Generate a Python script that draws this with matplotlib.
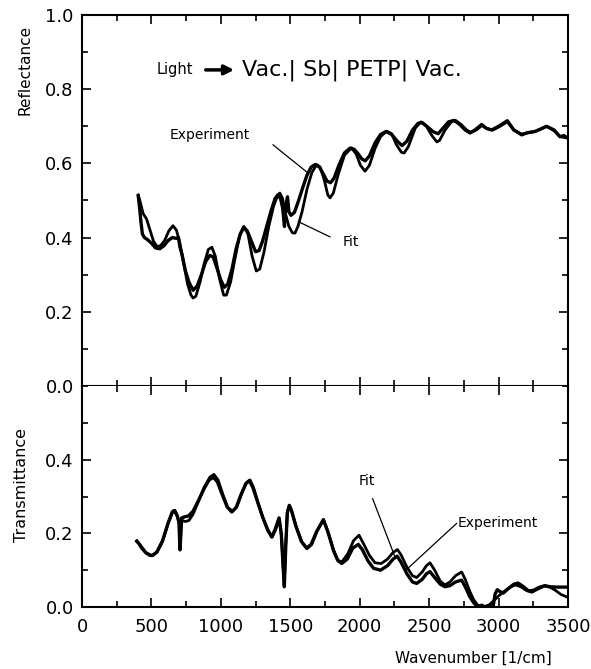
import matplotlib
matplotlib.use("Agg")
import matplotlib.pyplot as plt
from matplotlib.ticker import MultipleLocator, FixedLocator

# ---------------- data ----------------
refl_exp_x = [405, 415, 425, 435, 450, 470, 500, 530, 560, 590, 620, 650, 680, 695, 705, 720, 745, 770,
              800, 830, 860, 890, 920, 945, 970, 1000, 1025, 1050, 1080, 1110, 1140, 1165, 1190, 1220,
              1250, 1275, 1300, 1330, 1360, 1390, 1410, 1430, 1445, 1458, 1470, 1480, 1490, 1505, 1530,
              1560, 1590, 1620, 1650, 1680, 1710, 1740, 1765, 1790, 1815, 1850, 1890, 1930, 1960, 1990,
              2015, 2040, 2070, 2110, 2150, 2190, 2230, 2270, 2305, 2340, 2380, 2420, 2450, 2490, 2530,
              2565, 2600, 2640, 2680, 2720, 2760, 2795, 2830, 2878, 2910, 2950, 3000, 3063, 3110, 3166,
              3210, 3262, 3300, 3346, 3400, 3442, 3470, 3500]
refl_exp_y = [0.512, 0.48, 0.44, 0.41, 0.40, 0.395, 0.385, 0.372, 0.37, 0.378, 0.392, 0.40, 0.398, 0.40,
              0.375, 0.355, 0.31, 0.28, 0.258, 0.27, 0.30, 0.335, 0.352, 0.348, 0.32, 0.285, 0.266,
              0.275, 0.315, 0.37, 0.41, 0.428, 0.418, 0.39, 0.362, 0.365, 0.39, 0.43, 0.47, 0.505,
              0.515, 0.505, 0.48, 0.43, 0.49, 0.51, 0.47, 0.46, 0.468, 0.50, 0.535, 0.568, 0.59, 0.597,
              0.59, 0.57, 0.552, 0.548, 0.56, 0.595, 0.628, 0.641, 0.638, 0.625, 0.612, 0.607, 0.62,
              0.655, 0.678, 0.686, 0.678, 0.66, 0.648, 0.66, 0.69, 0.708, 0.71, 0.698, 0.685, 0.68,
              0.695, 0.712, 0.716, 0.705, 0.69, 0.682, 0.69, 0.705, 0.695, 0.69, 0.70, 0.715, 0.69,
              0.677, 0.683, 0.686, 0.692, 0.70, 0.69, 0.672, 0.675, 0.668]

refl_fit_x = [405, 420, 440, 465, 490, 515, 540, 565, 595, 625, 655, 680, 705, 730, 760, 785, 800, 820,
              850, 880, 910, 935, 960, 990, 1020, 1040, 1070, 1100, 1135, 1165, 1195, 1225, 1255, 1280,
              1310, 1345, 1380, 1410, 1425, 1445, 1465, 1490, 1515, 1534, 1555, 1585, 1620, 1655, 1690,
              1715, 1745, 1770, 1786, 1810, 1845, 1890, 1940, 1975, 2005, 2038, 2070, 2110, 2150, 2194,
              2230, 2265, 2300, 2320, 2350, 2400, 2440, 2480, 2520, 2555, 2575, 2615, 2660, 2690, 2730,
              2770, 2800, 2840, 2880, 2920, 2960, 3010, 3063, 3110, 3166, 3262, 3346, 3400, 3442, 3500]
refl_fit_y = [0.515, 0.495, 0.465, 0.45, 0.42, 0.39, 0.376, 0.378, 0.392, 0.418, 0.432, 0.42, 0.385,
              0.335, 0.275, 0.245, 0.237, 0.242, 0.28, 0.33, 0.368, 0.374, 0.35, 0.29, 0.245, 0.245,
              0.28, 0.34, 0.405, 0.43, 0.41, 0.35, 0.31, 0.315, 0.36, 0.43, 0.485, 0.515, 0.52, 0.505,
              0.465, 0.43, 0.413, 0.412, 0.43, 0.47, 0.53, 0.575, 0.597, 0.59, 0.555, 0.515, 0.507,
              0.52, 0.57, 0.622, 0.642, 0.625, 0.595, 0.579, 0.595, 0.64, 0.672, 0.687, 0.68, 0.65,
              0.63, 0.628, 0.645, 0.695, 0.712, 0.70, 0.675, 0.658, 0.662, 0.69, 0.712, 0.716, 0.705,
              0.69, 0.684, 0.69, 0.702, 0.693, 0.69, 0.70, 0.712, 0.69, 0.679, 0.686, 0.70, 0.688,
              0.672, 0.668]

trans_exp_x = [395, 410, 430, 460, 490, 510, 540, 580, 620, 650, 665, 685, 698, 706, 712, 718, 740, 766,
               800, 840, 880, 915, 946, 975, 1010, 1045, 1078, 1110, 1145, 1180, 1205, 1230, 1265, 1300,
               1335, 1366, 1390, 1419, 1435, 1447, 1457, 1467, 1478, 1493, 1510, 1540, 1580, 1618, 1650,
               1690, 1738, 1770, 1810, 1840, 1870, 1910, 1950, 1990, 2020, 2060, 2100, 2150, 2200, 2240,
               2270, 2300, 2340, 2380, 2410, 2450, 2480, 2506, 2540, 2580, 2614, 2650, 2690, 2734, 2760,
               2790, 2820, 2850, 2880, 2900, 2930, 2960, 2975, 2990, 3010, 3035, 3070, 3110, 3140, 3180,
               3214, 3250, 3290, 3334, 3370, 3420, 3460, 3500]
trans_exp_y = [0.178, 0.172, 0.16, 0.147, 0.14, 0.14, 0.15, 0.18, 0.228, 0.258, 0.262, 0.248, 0.23,
               0.155, 0.20, 0.242, 0.245, 0.247, 0.26, 0.29, 0.322, 0.345, 0.352, 0.34, 0.305, 0.272,
               0.258, 0.27, 0.305, 0.335, 0.343, 0.325, 0.285, 0.245, 0.212, 0.19, 0.21, 0.242, 0.2,
               0.12, 0.055, 0.16, 0.255, 0.276, 0.26, 0.22, 0.178, 0.16, 0.17, 0.205, 0.237, 0.205,
               0.155, 0.128, 0.118, 0.13, 0.16, 0.17, 0.155, 0.125, 0.105, 0.10, 0.112, 0.13, 0.138,
               0.12, 0.09, 0.068, 0.064, 0.075, 0.09, 0.096, 0.08, 0.062, 0.055, 0.058, 0.068, 0.073,
               0.055, 0.03, 0.012, 0.0, 0.005, 0.0, 0.004, 0.0, 0.035, 0.047, 0.042, 0.038, 0.05,
               0.062, 0.065, 0.055, 0.044, 0.045, 0.053, 0.058, 0.055, 0.054, 0.054, 0.054]

trans_fit_x = [395, 420, 460, 500, 540, 580, 620, 655, 670, 690, 702, 708, 714, 720, 745, 770, 800, 840,
               880, 920, 950, 980, 1015, 1050, 1085, 1115, 1150, 1185, 1210, 1235, 1270, 1305, 1340,
               1370, 1395, 1420, 1437, 1448, 1457, 1467, 1480, 1495, 1512, 1545, 1585, 1620, 1655, 1695,
               1740, 1775, 1815, 1845, 1875, 1915, 1955, 1995, 2030, 2070, 2110, 2155, 2200, 2240, 2272,
               2300, 2340, 2380, 2410, 2450, 2480, 2506, 2540, 2580, 2614, 2650, 2690, 2734, 2760, 2790,
               2820, 2850, 2890, 2930, 2960, 3000, 3050, 3090, 3120, 3160, 3200, 3240, 3280, 3330, 3370,
               3410, 3450, 3500]
trans_fit_y = [0.18, 0.168, 0.148, 0.14, 0.148, 0.178, 0.226, 0.26, 0.262, 0.245, 0.222, 0.17, 0.222,
               0.235, 0.232, 0.235, 0.252, 0.288, 0.325, 0.352, 0.36, 0.345, 0.305, 0.27, 0.26, 0.272,
               0.308, 0.338, 0.345, 0.325, 0.28, 0.24, 0.205, 0.19, 0.21, 0.24, 0.19, 0.11, 0.065, 0.17,
               0.26, 0.275, 0.258, 0.215, 0.175, 0.158, 0.17, 0.208, 0.237, 0.2, 0.15, 0.124, 0.124,
               0.145, 0.18, 0.195, 0.17, 0.14, 0.12, 0.118, 0.13, 0.148, 0.156, 0.14, 0.108, 0.085,
               0.08, 0.095, 0.112, 0.12, 0.1, 0.07, 0.06, 0.068, 0.085, 0.095, 0.075, 0.045, 0.02,
               0.005, 0.0, 0.005, 0.015, 0.03, 0.045, 0.055, 0.06, 0.055, 0.045, 0.04, 0.048, 0.057,
               0.054, 0.045, 0.034, 0.026]

x_ticks = [0, 500, 1000, 1500, 2000, 2500, 3000, 3500]
refl_ticks = [0.0, 0.2, 0.4, 0.6, 0.8, 1.0]
trans_ticks = [0.0, 0.2, 0.4]

# ---------------- figure ----------------
plt.rcParams['font.family'] = ['DejaVu Sans']
fig = plt.figure(figsize=(5.91, 6.69), dpi=100)
L, R = 82 / 591, 568 / 591
ax1 = fig.add_axes([L, 1 - 386 / 669, R - L, 371 / 669])
ax2 = fig.add_axes([L, 1 - 607 / 669, R - L, 221 / 669])

for ax in (ax1, ax2):
    ax.set_xlim(0, 3500)
    ax.xaxis.set_major_locator(FixedLocator(x_ticks))
    ax.xaxis.set_minor_locator(MultipleLocator(250))
    ax.yaxis.set_minor_locator(MultipleLocator(0.1))
    ax.tick_params(which='both', direction='in', top=True, right=True, width=1.2, color='black')
    ax.tick_params(which='major', length=6.5, labelsize=13, pad=6)
    ax.tick_params(which='minor', length=4)
    for s in ax.spines.values():
        s.set_linewidth(1.5)

ax1.set_ylim(0, 1.0)
ax1.set_yticks(refl_ticks)
ax1.set_yticklabels([f"{v:.1f}" for v in refl_ticks])
ax1.tick_params(labelbottom=False)

ax2.set_ylim(0, 0.6)
ax2.set_yticks(trans_ticks)
ax2.set_yticklabels([f"{v:.1f}" for v in trans_ticks])
ax2.set_xticklabels([str(v) for v in x_ticks])
ax2.tick_params(axis='x', pad=8)
ax2.spines['top'].set_visible(False)

lw = 2.0
ax1.plot(refl_exp_x, refl_exp_y, color='black', lw=lw + 0.4, solid_joinstyle='round')
ax1.plot(refl_fit_x, refl_fit_y, color='black', lw=lw, solid_joinstyle='round')
ax2.plot(trans_exp_x, trans_exp_y, color='black', lw=lw + 0.4, solid_joinstyle='round')
ax2.plot(trans_fit_x, trans_fit_y, color='black', lw=lw, solid_joinstyle='round')

# annotations top
ax1.text(540, 0.852, "Light", fontsize=10.5, ha='left', va='center')
ax1.annotate("", xy=(1116, 0.852), xytext=(871, 0.852),
             arrowprops=dict(arrowstyle='-|>', lw=2.5, mutation_scale=14, color='black'))
ax1.text(1152, 0.852, "Vac.| Sb| PETP| Vac.", fontsize=16, ha='left', va='center')

ax1.text(634, 0.677, "Experiment", fontsize=10, ha='left', va='center')
ax1.plot([1376, 1628], [0.65, 0.574], color='black', lw=0.9)
ax1.text(1880, 0.388, "Fit", fontsize=10, ha='left', va='center')
ax1.plot([1786, 1558], [0.402, 0.443], color='black', lw=0.9)

# annotations bottom
ax2.text(1990, 0.343, "Fit", fontsize=10, ha='left', va='center')
ax2.plot([2093, 2254], [0.294, 0.136], color='black', lw=0.9)
ax2.text(2708, 0.227, "Experiment", fontsize=10, ha='left', va='center')
ax2.plot([2698, 2338], [0.227, 0.102], color='black', lw=0.9)

# axis labels
fig.text(25 / 591, 1 - 70 / 669, "Reflectance", rotation=90, fontsize=11, ha='center', va='center')
fig.text(22 / 591, 1 - 485 / 669, "Transmittance", rotation=90, fontsize=11.5, ha='center', va='center')
fig.text(473 / 591, 1 - 658 / 669, "Wavenumber [1/cm]", fontsize=11, ha='center', va='center')

fig.savefig("out.png", dpi=100)
